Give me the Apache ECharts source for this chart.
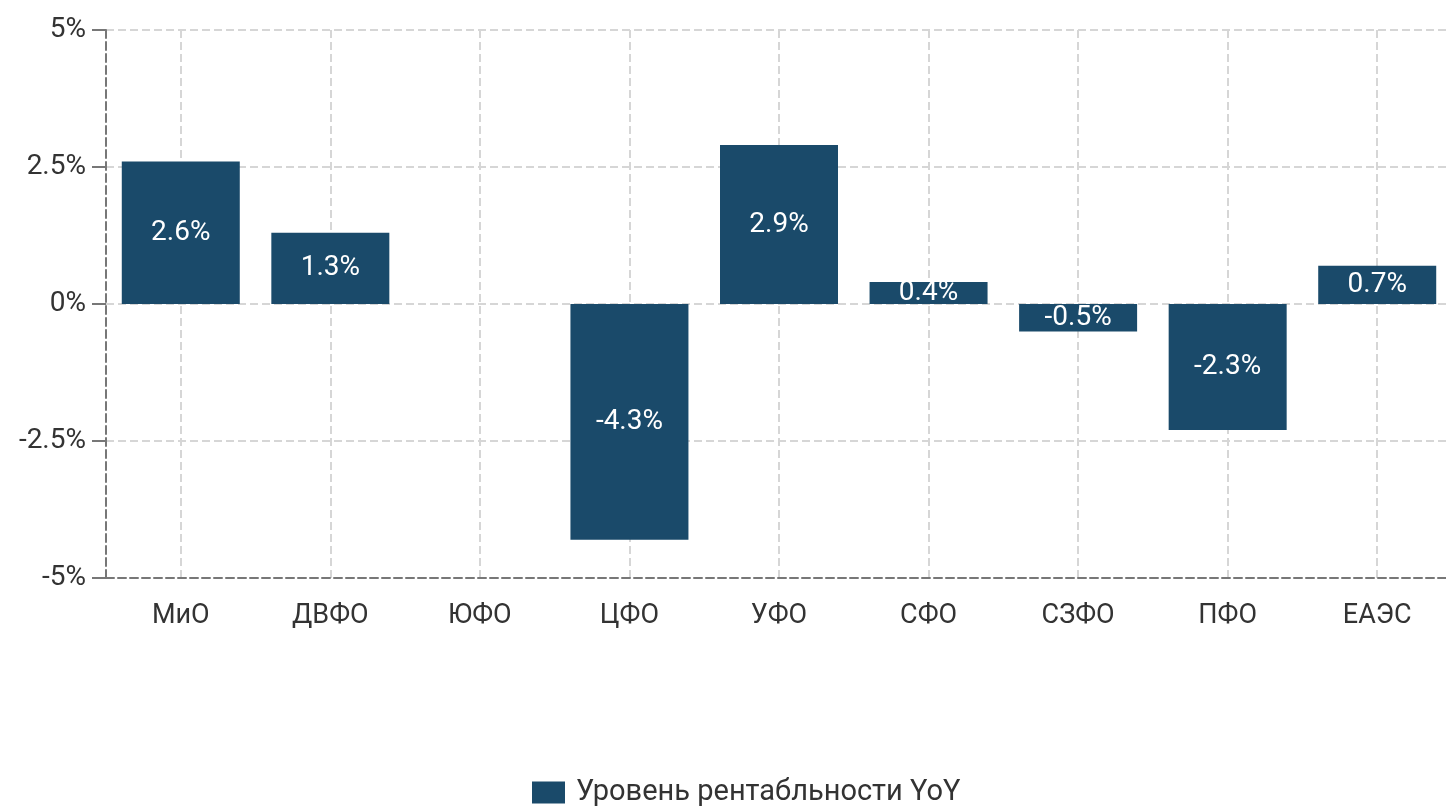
<!DOCTYPE html>
<html>
<head>
<meta charset="utf-8">
<script src="https://cdn.jsdelivr.net/npm/echarts@6/dist/echarts.min.js"></script>
<style>
  html, body { margin: 0; padding: 0; background: #fff; overflow: hidden; }
  #chart { width: 1452px; height: 806px; }
</style>
</head>
<body>
<div id="chart"></div>
<script>
// регионы и значения
const categories = ['МиО', 'ДВФО', 'ЮФО', 'ЦФО', 'УФО', 'СФО', 'СЗФО', 'ПФО', 'ЕАЭС']
const values = [2.6, 1.3, null, -4.3, 2.9, 0.4, -0.5, -2.3, 0.7]
const seriesName = 'Уровень рентабльности YoY'
const yTicks = [-5, -2.5, 0, 2.5, 5]

const chart = echarts.init(document.getElementById('chart'))

const font = 'Roboto'
const option = {
  animation: false,
  textStyle: { fontFamily: font },
  grid: { left: 106, top: 30, right: 0, bottom: 228, containLabel: false },
  legend: {
    data: [seriesName],
    icon: 'rect',
    left: 532,
    top: 778,
    padding: 0,
    itemWidth: 33,
    itemHeight: 22,
    textStyle: { fontSize: 29, color: '#333', fontFamily: font, padding: [0, 0, 0, 6] }
  },
  xAxis: {
    type: 'category',
    data: categories,
    axisLine: { onZero: false, lineStyle: { color: '#777', type: 'dashed', width: 2 } },
    axisTick: { alignWithLabel: true, length: 13, lineStyle: { color: '#777', width: 2 } },
    axisLabel: { fontSize: 27, color: '#333', margin: 25, fontFamily: font },
    splitLine: { show: true, alignWithLabel: true, lineStyle: { color: '#d6d6d6', type: 'dashed', width: 2 } }
  },
  yAxis: {
    type: 'value',
    min: yTicks[0],
    max: yTicks[yTicks.length - 1],
    interval: 2.5,
    axisLine: { show: true, lineStyle: { color: '#777', type: 'dashed', width: 2 } },
    axisTick: { show: true, length: 14, lineStyle: { color: '#777', width: 2 } },
    axisLabel: { fontSize: 28, color: '#333', margin: 20, fontFamily: font, formatter: v => v + '%' },
    splitLine: { show: true, lineStyle: { color: '#d6d6d6', type: 'dashed', width: 2 } }
  },
  series: [
    {
      name: seriesName,
      type: 'bar',
      data: values,
      barWidth: 118,
      itemStyle: { color: '#1a4a6a' },
      label: {
        show: true,
        position: 'inside',
        color: '#fff',
        fontSize: 28,
        fontFamily: font,
        formatter: p => p.value + '%'
      }
    }
  ]
}
chart.setOption(option)
</script>
</body>
</html>
